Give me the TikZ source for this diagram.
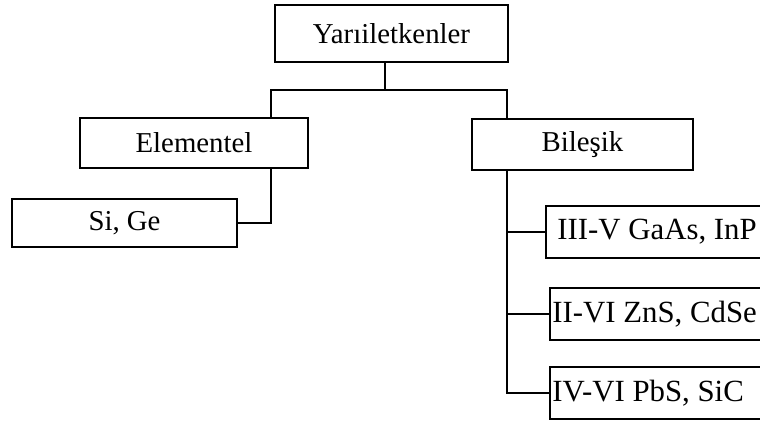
\documentclass[tikz,border=0pt]{standalone}
\usepackage{fontspec}
\setmainfont{Liberation Serif}
\usetikzlibrary{positioning}
\tikzset{
  catbox/.style={draw, line width=0.9pt, inner sep=0pt,
    font=\fontsize{14.4}{17}\selectfont},
  typebox/.style={anchor=west, inner sep=0pt, minimum height=25.5pt,
    font=\fontsize{15.4}{18}\selectfont},
  link/.style={line width=0.9pt}
}
\begin{document}
\begin{tikzpicture}[x=0.5pt, y=-0.5pt]
  \path[use as bounding box, clip] (0,0) rectangle (760,421);
  \node[catbox, minimum width=116.5pt, minimum height=28.5pt] (root) at (391.5,33.5) {Yarıiletkenler};
  \node[catbox, minimum width=114pt, minimum height=25pt] (elem) at (194,143) {Elementel};
  \node[catbox, minimum width=112.5pt, minimum height=24pt] (sige) at (124.5,223) {Si, Ge};
  \node[catbox, minimum width=110.5pt, minimum height=25.5pt] (bil) at (582.5,144.5) {Bileşik};
  \foreach \name/\lab/\xx/\yy/\pad in {iiiv/{III-V GaAs, InP}/546/232/5.5pt,
                                       iivi/{II-VI ZnS, CdSe}/550/314/1pt,
                                       ivvi/{IV-VI PbS, SiC}/550/393/1pt}{%
    \node[typebox, inner xsep=\pad] (\name) at (\xx,\yy) {\makebox[140pt][l]{\lab}};
    \draw[link] (\name.north east) -- (\name.north west) -- (\name.south west)
      -- (\name.south east);}
  \coordinate (split) at (385,90);
  \coordinate (lft) at (271,90);
  \coordinate (rgt) at (507,90);
  \draw[link] (root.south -| split) -- (split);
  \draw[link] (lft |- elem.north) -- (lft) -- (rgt) -- (rgt |- bil.north);
  \draw[link] (elem.south -| lft) |- (sige.east);
  \draw[link] (bil.south -| rgt) |- (ivvi.west);
  \foreach \name in {iiiv, iivi}{%
    \draw[link] (rgt |- \name.west) -- (\name.west);}
\end{tikzpicture}
\end{document}
